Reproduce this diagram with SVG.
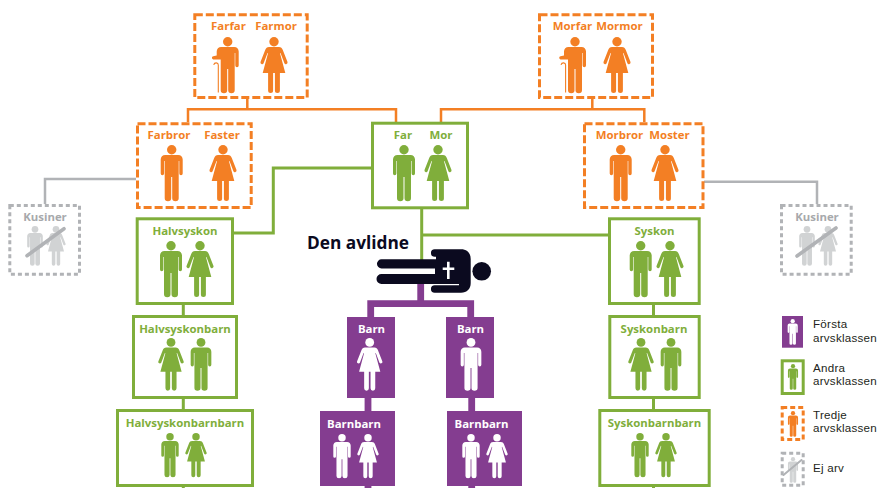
<svg xmlns="http://www.w3.org/2000/svg" xmlns:xlink="http://www.w3.org/1999/xlink" width="878" height="488" viewBox="0 0 878 488">
<style>
text{font-family:"Open Sans","Liberation Sans",sans-serif;font-weight:700;font-size:11.4px;text-anchor:middle}
.o{fill:#f37f24}.g{fill:#80ae3b}.w{fill:#fff}.y{fill:#d1d3d4}
text.o{fill:#f37f24}text.g{fill:#80ae3b}text.w{fill:#fff}text.k{fill:#a7a9ac}
.bo{fill:#fff;stroke:#f37f24;stroke-width:3;stroke-dasharray:8 3}
.bg{fill:#fff;stroke:#80ae3b;stroke-width:3}
.by{fill:#fff;stroke:#b1b3b6;stroke-width:3;stroke-dasharray:4 3}
.bp{fill:#843d90}
.c{fill:none;stroke-linejoin:miter}
.co{stroke:#f37f24;stroke-width:2.5}.cg{stroke:#80ae3b;stroke-width:3}.cy{stroke:#b1b3b6;stroke-width:2.5}.cp{stroke:#843d90;stroke-width:6.8}
.slash{stroke:#b1b3b6;stroke-width:3.6;stroke-linecap:round;fill:none}
text.leg{font-family:"Liberation Sans",Arial,sans-serif;font-weight:400;font-size:11.6px;letter-spacing:.25px;text-anchor:start;fill:#231f20}
</style>
<defs>
<g id="man"><circle cx="0" cy="4.7" r="4.7"/><path d="M-6.5 10H6.5C9.2 10 11 12 11 14.5V28.5A1.7 1.7 0 0 1 7.6 28.5V16H7V53.2A3.2 2.9 0 0 1 .5 53.2V32H-.5V53.2A3.2 2.9 0 0 1-7 53.2V16H-7.6V28.5A1.7 1.7 0 0 1-11 28.5V14.5C-11 12-9.2 10-6.5 10Z"/></g>
<g id="woman"><circle cx="0" cy="4.7" r="4.7"/><path d="M-5 10H5C7 10 8 11 8.8 13L13.5 25A1.7 1.7 0 0 1 10.4 26.3L6.5 16 6 16.3 11.3 36H5.9V53.5A2.5 2.5 0 0 1 .9 53.5V36H-.9V53.5A2.5 2.5 0 0 1-5.9 53.5V36H-11.3L-6 16.3-6.5 16-10.4 26.3A1.7 1.7 0 0 1-13.5 25L-8.8 13C-8 11-7 10-5 10Z"/></g>
<g id="oldman"><circle cx="0" cy="4.7" r="4.7"/><path d="M-6.5 10H6.5C9.2 10 11 12 11 14.5V28.5A1.7 1.7 0 0 1 7.6 28.5V16H7V53.2A3.2 2.9 0 0 1 .5 53.2V32H-.5V53.2A3.2 2.9 0 0 1-7 53.2V22.5H-14.5A1.7 1.7 0 0 1-14.5 19.2L-11 18.6V14.5C-11 12-9.2 10-6.5 10Z"/><path d="M-9.4 55.5V28C-9.4 25.3-13.2 25-14 27.8" fill="none" stroke="#f37f24" stroke-width="1.1"/></g>
</defs>

<g id="connectors">
<path class="c co" d="M247.3 99V109.3M188 122V109.3H396V122"/>
<path class="c co" d="M592.3 99V109.3M441 122V109.3H644.3V122"/>
<path class="c cg" d="M372 168H273.3V233H234"/>
<path class="c cg" d="M421.7 208V262M421.7 235H608"/>
<path class="c cg" d="M183.3 305V315M183.3 399V409M183.3 487V488M653.5 305V315M653.5 399V409M653.5 487V488"/>
<path class="c cy" d="M136 179H45V204"/>
<path class="c cy" d="M704 181.7H817V204"/>
<path class="c cp" d="M420.7 280V303.7M370.7 317V303.7H470.7V317M368 398V411M471.7 398V411M368 486V488M471.7 486V488"/>
</g>

<g id="farfar-farmor"><rect class="bo" x="194.8" y="14.8" width="112.4" height="82.7"/><text class="o" x="228.5" y="30">Farfar</text><text class="o" x="276" y="30">Farmor</text><use xlink:href="#oldman" class="o" x="227.7" y="37"/><use xlink:href="#woman" class="o" x="274" y="37"/></g>
<g id="morfar-mormor"><rect class="bo" x="539.5" y="14.8" width="113" height="82.7"/><text class="o" x="572.5" y="30">Morfar</text><text class="o" x="619.5" y="30">Mormor</text><use xlink:href="#oldman" class="o" x="575" y="37"/><use xlink:href="#woman" class="o" x="617" y="37"/></g>
<g id="farbror-faster"><rect class="bo" x="137.5" y="123.8" width="113.7" height="83.7"/><text class="o" x="169" y="139">Farbror</text><text class="o" x="222" y="139">Faster</text><use xlink:href="#man" class="o" x="171.7" y="145"/><use xlink:href="#woman" class="o" x="223" y="145"/></g>
<g id="far-mor"><rect class="bg" x="372.5" y="123.2" width="95" height="84.6"/><text class="g" x="403" y="139">Far</text><text class="g" x="441" y="139">Mor</text><use xlink:href="#man" class="g" x="404" y="145"/><use xlink:href="#woman" class="g" x="438" y="145"/></g>
<g id="morbror-moster"><rect class="bo" x="584.5" y="123.8" width="118.5" height="83.7"/><text class="o" x="619.5" y="139">Morbror</text><text class="o" x="669.5" y="139">Moster</text><use xlink:href="#man" class="o" x="620.7" y="145"/><use xlink:href="#woman" class="o" x="665" y="145"/></g>

<g id="kusiner-v"><rect class="by" x="9.8" y="205.5" width="69.7" height="68.7"/><text class="k" x="45" y="221">Kusiner</text><use xlink:href="#man" class="y" transform="translate(35 226) scale(.71)"/><use xlink:href="#woman" class="y" transform="translate(56 226) scale(.71)"/><path class="slash" d="M27 255.7L64 228.7"/></g>
<g id="kusiner-h"><rect class="by" x="781.5" y="205.5" width="69.7" height="68.7"/><text class="k" x="817" y="221">Kusiner</text><use xlink:href="#man" class="y" transform="translate(807 226) scale(.71)"/><use xlink:href="#woman" class="y" transform="translate(828 226) scale(.71)"/><path class="slash" d="M797 256L836 228"/></g>

<g id="halvsyskon"><rect class="bg" x="137.2" y="218.8" width="95.3" height="84.7"/><text class="g" x="185" y="234.5">Halvsyskon</text><use xlink:href="#man" class="g" x="171" y="241"/><use xlink:href="#woman" class="g" x="200" y="241"/></g>
<g id="syskon"><rect class="bg" x="609.5" y="218.8" width="89.7" height="84.7"/><text class="g" x="654.5" y="234.5">Syskon</text><use xlink:href="#man" class="g" x="640.7" y="241"/><use xlink:href="#woman" class="g" x="670" y="241"/></g>
<g id="halvsyskonbarn"><rect class="bg" x="133.5" y="316.5" width="103" height="81"/><text class="g" x="185" y="333">Halvsyskonbarn</text><use xlink:href="#woman" class="g" transform="translate(171 338) scale(.94)"/><use xlink:href="#man" class="g" transform="translate(201 338) scale(.94)"/></g>
<g id="syskonbarn"><rect class="bg" x="609.8" y="316.5" width="89.4" height="81"/><text class="g" x="654" y="333">Syskonbarn</text><use xlink:href="#woman" class="g" transform="translate(641 338) scale(.94)"/><use xlink:href="#man" class="g" transform="translate(671 338) scale(.94)"/></g>
<g id="halvsyskonbarnbarn"><rect class="bg" x="117.5" y="410.5" width="135" height="75"/><text class="g" x="185" y="427">Halvsyskonbarnbarn</text><use xlink:href="#man" class="g" transform="translate(170 433) scale(.79)"/><use xlink:href="#woman" class="g" transform="translate(196 433) scale(.79)"/></g>
<g id="syskonbarnbarn"><rect class="bg" x="599.8" y="410.5" width="109.4" height="75"/><text class="g" x="654.5" y="427">Syskonbarnbarn</text><use xlink:href="#man" class="g" transform="translate(640 433) scale(.79)"/><use xlink:href="#woman" class="g" transform="translate(666 433) scale(.79)"/></g>

<g id="den-avlidne"><text x="358" y="249" style="font-size:17.3px;fill:#0b0a1f">Den avlidne</text>
<path fill="#0b0a1f" d="M434.7 249.3H461C467 249.3 470.7 253 470.7 259V283C470.7 289 467 292.7 461 292.7H434.7A3.7 3.7 0 0 1 434.7 285.2H459V284H381.5A5 5 0 0 1 381.5 274H435V268.4H381.5A4.5 4.5 0 0 1 381.5 259.3H436V256.8H434.7A3.7 3.7 0 0 1 434.7 249.3Z"/>
<circle cx="481.7" cy="271.3" r="9.3" fill="#0b0a1f"/>
<path fill="#fff" d="M447 261.7H449.6V267.5H454.3V270H449.6V279H447V270H442.7V267.5H447Z"/></g>

<g id="barn-1"><rect class="bp" x="347" y="317" width="48" height="81"/><text class="w" x="371.5" y="333">Barn</text><use xlink:href="#woman" class="w" transform="translate(369.7 338) scale(.94)"/></g>
<g id="barn-2"><rect class="bp" x="446" y="317" width="48" height="81"/><text class="w" x="470.5" y="333">Barn</text><use xlink:href="#man" class="w" transform="translate(471 338) scale(.94)"/></g>
<g id="barnbarn-1"><rect class="bp" x="320" y="411" width="75" height="75"/><text class="w" x="354" y="428">Barnbarn</text><use xlink:href="#man" class="w" transform="translate(342 434) scale(.79)"/><use xlink:href="#woman" class="w" transform="translate(368 434) scale(.79)"/></g>
<g id="barnbarn-2"><rect class="bp" x="447" y="411" width="75" height="75"/><text class="w" x="481.5" y="428">Barnbarn</text><use xlink:href="#man" class="w" transform="translate(471 434) scale(.79)"/><use xlink:href="#woman" class="w" transform="translate(497 434) scale(.79)"/></g>

<g id="legend-forsta"><rect class="bp" x="782" y="316" width="21" height="31.7"/><use xlink:href="#man" class="w" transform="translate(792.7 319) scale(.46)"/><text class="leg" x="813" y="327.7">Första</text><text class="leg" x="813" y="341.7">arvsklassen</text></g>
<g id="legend-andra"><rect class="bg" x="782.2" y="360.8" width="21" height="32.7"/><use xlink:href="#man" class="g" transform="translate(793 364) scale(.46)"/><text class="leg" x="813" y="371.7">Andra</text><text class="leg" x="813" y="385.2">arvsklassen</text></g>
<g id="legend-tredje"><rect class="bo" x="782.2" y="407.5" width="21" height="32" style="stroke-dasharray:5 3"/><use xlink:href="#man" class="o" transform="translate(793 411) scale(.46)"/><text class="leg" x="813" y="418.7">Tredje</text><text class="leg" x="813" y="432.4">arvsklassen</text></g>
<g id="legend-ej"><rect class="by" x="782.2" y="453.2" width="21" height="32"/><use xlink:href="#man" class="y" transform="translate(793 457) scale(.46)"/><path class="slash" style="stroke-width:2" d="M783.5 475L801.5 460"/><text class="leg" x="813" y="472">Ej arv</text></g>
</svg>
